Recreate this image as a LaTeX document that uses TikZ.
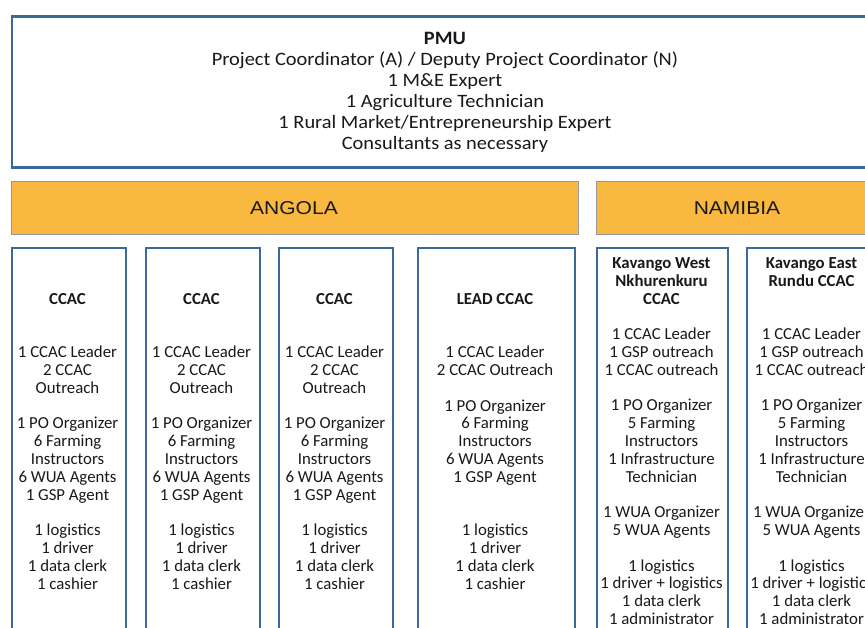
\documentclass[tikz,border=0pt]{standalone}
\usepackage{fontspec}
\setmainfont{Carlito}
\newfontfamily\arialf[FakeStretch=1.13]{Liberation Sans}
\newfontfamily\pmuf[FakeStretch=1.08]{Carlito}
\definecolor{boxblue}{RGB}{58,106,155}
\definecolor{barorange}{RGB}{249,184,63}
\definecolor{txt}{RGB}{25,25,25}
\begin{document}
\begin{tikzpicture}[x=1pt,y=-1pt,
  bluebox/.style={draw=boxblue, line width=2pt, fill=white, rectangle, inner sep=0pt, anchor=north west},
  bar/.style={draw=black!40, line width=0.8pt, fill=barorange, rectangle, inner sep=0pt, anchor=north west},
  barlabel/.style={anchor=base, inner sep=0pt, font=\arialf\fontsize{18.6}{22}\selectfont, text=txt},
  staff/.style={align=center, anchor=base, inner sep=0pt, font=\fontsize{16.8}{17.8}\selectfont, text=txt},
  pmutext/.style={align=center, anchor=base, inner sep=0pt, font=\pmuf\fontsize{18.9}{21}\selectfont, text=txt},
]
\useasboundingbox (0,0) rectangle (865,628);
\clip (0,0) rectangle (865,628);
% PMU
\node[bluebox, line width=2.4pt, minimum width=880pt, minimum height=151pt] (pmu) at (11,15.5) {};
\node[pmutext] (pmut) at (445,149.5) {\textbf{PMU}\\Project Coordinator (A) / Deputy Project Coordinator (N)\\1 M\&E Expert\\1 Agriculture Technician\\1 Rural Market/Entrepreneurship Expert\\Consultants as necessary};
% country bars
\node[bar, minimum width=567pt, minimum height=53pt] (angola) at (10.5,181) {};
\node[bar, minimum width=283pt, minimum height=53pt] (namibia) at (596,181) {};
\node[barlabel] (angolat) at (294,215) {ANGOLA};
\node[barlabel] (namibiat) at (737,215) {NAMIBIA};
% boxes
\node[bluebox, minimum width=114pt, minimum height=400pt] (b1) at (10.5,247.5) {};
\node[bluebox, minimum width=114pt, minimum height=400pt] (b2) at (144.5,247.5) {};
\node[bluebox, minimum width=114pt, minimum height=400pt] (b3) at (277.5,247.5) {};
\node[bluebox, minimum width=157pt, minimum height=400pt] (b4) at (416.5,247.5) {};
\node[bluebox, minimum width=131pt, minimum height=400pt] (b5) at (596,247.5) {};
\node[bluebox, minimum width=131pt, minimum height=400pt] (b6) at (746,247.5) {};
% texts (anchor base = last line's baseline)
\foreach \n/\xx in {1/67.5,2/201.5,3/334.5}{
\node[staff] (t\n) at (\xx,589) {\textbf{CCAC}\\[35.6pt]1 CCAC Leader\\2 CCAC\\Outreach\\[17.8pt]1 PO Organizer\\6 Farming\\Instructors\\6 WUA Agents\\1 GSP Agent\\[17.8pt]1 logistics\\1 driver\\1 data clerk\\1 cashier};
}
\node[staff] (t4) at (495,589) {\textbf{LEAD CCAC}\\[35.6pt]1 CCAC Leader\\2 CCAC Outreach\\[17.8pt]1 PO Organizer\\6 Farming\\Instructors\\6 WUA Agents\\1 GSP Agent\\[35.6pt]1 logistics\\1 driver\\1 data clerk\\1 cashier};
\node[staff] (t5) at (661.5,624.4) {\textbf{Kavango West}\\\textbf{Nkhurenkuru}\\\textbf{CCAC}\\[17.8pt]1 CCAC Leader\\1 GSP outreach\\1 CCAC outreach\\[17.8pt]1 PO Organizer\\5 Farming\\Instructors\\1 Infrastructure\\Technician\\[17.8pt]1 WUA Organizer\\5 WUA Agents\\[17.8pt]1 logistics\\1 driver + logistics\\1 data clerk\\1 administrator};
\node[staff] (t6) at (811.5,624.4) {\textbf{Kavango East}\\\textbf{Rundu CCAC}\\[35.6pt]1 CCAC Leader\\1 GSP outreach\\1 CCAC outreach\\[17.8pt]1 PO Organizer\\5 Farming\\Instructors\\1 Infrastructure\\Technician\\[17.8pt]1 WUA Organizer\\5 WUA Agents\\[17.8pt]1 logistics\\1 driver + logistics\\1 data clerk\\1 administrator};
\end{tikzpicture}
\end{document}
